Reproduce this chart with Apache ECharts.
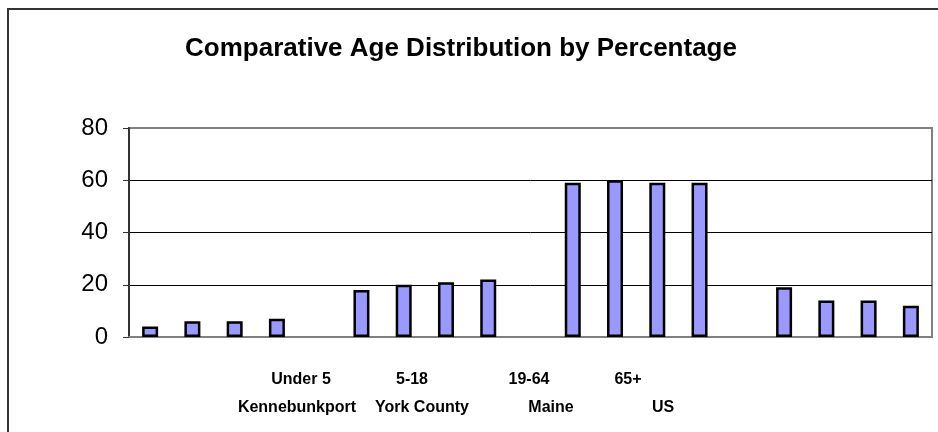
<!DOCTYPE html>
<html>
<head>
<meta charset="utf-8">
<title>Comparative Age Distribution by Percentage</title>
<script src="https://cdn.jsdelivr.net/npm/echarts@6/dist/echarts.min.js"></script>
<style>
  html, body { margin: 0; padding: 0; background: #fff; }
  #chart { width: 938px; height: 432px; }
</style>
</head>
<body>
<div id="chart"></div>
<script>
// age groups and places (as printed under the axis)
const ageGroups = ['Under 5', '5-18', '19-64', '65+']
const places = ['Kennebunkport', 'York County', 'Maine', 'US']

// percentages, one row per age group, one value per place
const under5 = [4, 6, 6, 7]
const age5to18 = [18, 20, 21, 22]
const age19to64 = [59, 60, 59, 59]
const age65plus = [19, 14, 14, 12]

const yTicks = [0, 20, 40, 60, 80]

// label x centres for the two text rows under the axis
const ageLabelX = [301, 412, 529, 628]
const placeLabelX = [297, 422, 551, 663]

// build 19 slots: 4 bars, gap, 4 bars, gap ...
const groups = [under5, age5to18, age19to64, age65plus]
const slots = []
const values = []
groups.forEach((g, gi) => {
  if (gi > 0) {
    slots.push('gap' + gi)
    values.push('-')
  }
  g.forEach((v, pi) => {
    slots.push(ageGroups[gi] + ' ' + places[pi])
    values.push(v)
  })
})

const chart = echarts.init(document.getElementById('chart'))

const labelFont = 'bold 16px "Liberation Sans", Arial, sans-serif'
const graphics = [
  {
    type: 'rect',
    x: 8,
    y: 9,
    shape: { x: 0, y: 0, width: 960, height: 460 },
    style: { fill: 'none', stroke: '#333', lineWidth: 2 },
    silent: true
  }
]
ageGroups.forEach((t, i) => {
  graphics.push({
    type: 'text',
    x: ageLabelX[i],
    y: 380,
    style: { text: t, font: labelFont, fill: '#000', align: 'center', verticalAlign: 'middle' }
  })
})
places.forEach((t, i) => {
  graphics.push({
    type: 'text',
    x: placeLabelX[i],
    y: 408,
    style: { text: t, font: labelFont, fill: '#000', align: 'center', verticalAlign: 'middle' }
  })
})

chart.setOption({
  animation: false,
  title: {
    text: 'Comparative Age Distribution by Percentage',
    left: 456,
    textAlign: 'center',
    top: 31,
    textStyle: {
      fontFamily: '"Liberation Sans", Arial, sans-serif',
      fontSize: 26,
      fontWeight: 'bold',
      color: '#000'
    }
  },
  grid: {
    left: 129,
    right: 6,
    top: 128,
    bottom: 95,
    show: true,
    borderColor: '#808080',
    borderWidth: 2,
    backgroundColor: '#fff'
  },
  xAxis: {
    type: 'category',
    data: slots,
    axisLine: { lineStyle: { color: '#808080', width: 2 } },
    axisTick: { show: false },
    axisLabel: { show: false }
  },
  yAxis: {
    type: 'value',
    min: yTicks[0],
    max: yTicks[yTicks.length - 1],
    interval: 20,
    axisLine: { show: true, lineStyle: { color: '#333', width: 2 } },
    axisTick: { show: true, length: 6, lineStyle: { color: '#333', width: 1 } },
    axisLabel: {
      color: '#000',
      fontSize: 24,
      fontFamily: '"Liberation Sans", Arial, sans-serif',
      margin: 21
    },
    splitLine: {
      show: true,
      lineStyle: { color: ['#808080', '#000', '#000', '#000', '#808080'], width: 1 }
    }
  },
  series: [
    {
      type: 'bar',
      data: values,
      barWidth: 16,
      itemStyle: {
        color: '#9999FF',
        borderColor: '#000',
        borderWidth: 2.5
      }
    }
  ],
  graphic: graphics
})
</script>
</body>
</html>
